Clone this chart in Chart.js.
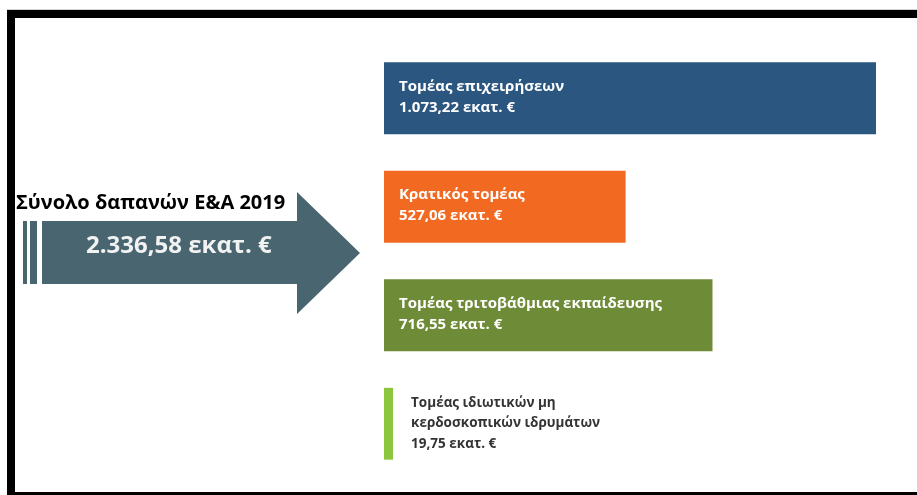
<!DOCTYPE html>
<html>
<head>
<meta charset="utf-8">
<script src="https://cdn.jsdelivr.net/npm/chart.js@4.4.1/dist/chart.umd.min.js"></script>
<style>
  html, body { margin: 0; padding: 0; background: #ffffff; }
  canvas { display: block; }
</style>
</head>
<body>
<canvas id="c" width="917" height="495"></canvas>
<script>
// ---- data ----
const categories = [
  'Τομέας επιχειρήσεων',
  'Κρατικός τομέας',
  'Τομέας τριτοβάθμιας εκπαίδευσης',
  ['Τομέας ιδιωτικών μη', 'κερδοσκοπικών ιδρυμάτων']
];
const values = [1073.22, 527.06, 716.55, 19.75];
const unitLabel = 'εκατ. €';
const totalTitle = 'Σύνολο δαπανών Ε&Α 2019';
const totalValue = 2336.58;
const barColors = ['#2b5680', '#f26a21', '#6e8b37', '#8cc63f'];

function fmtGreek(v) {
  const parts = v.toFixed(2).split('.');
  const intPart = parts[0].replace(/\B(?=(\d{3})+(?!\d))/g, '.');
  return intPart + ',' + parts[1] + ' ' + unitLabel;
}

const decorPlugin = {
  id: 'decor',
  beforeDraw(chart) {
    const ctx = chart.ctx;
    ctx.save();
    ctx.fillStyle = '#ffffff';
    ctx.fillRect(0, 0, chart.width, chart.height);
    // frame
    ctx.fillStyle = '#000000';
    ctx.fillRect(7, 10, 910, 8);
    ctx.fillRect(7, 10, 8, 485);
    ctx.fillRect(7, 492, 910, 3);
    ctx.fillStyle = '#d0d0d0';
    ctx.fillRect(7, 9, 910, 1);

    // total arrow
    const arrowColor = '#486570';
    ctx.fillStyle = arrowColor;
    ctx.fillRect(23, 221, 4, 63);
    ctx.fillRect(30, 221, 7, 63);
    ctx.beginPath();
    ctx.moveTo(42, 221);
    ctx.lineTo(297, 221);
    ctx.lineTo(297, 192);
    ctx.lineTo(360, 253);
    ctx.lineTo(297, 314);
    ctx.lineTo(297, 284);
    ctx.lineTo(42, 284);
    ctx.closePath();
    ctx.fill();

    ctx.textBaseline = 'alphabetic';
    ctx.textAlign = 'left';
    ctx.fillStyle = '#000000';
    ctx.font = 'bold 20px "Open Sans"';
    ctx.fillText(totalTitle, 16, 209);
    ctx.fillStyle = '#f2f2f2';
    ctx.font = 'bold 24px "Open Sans"';
    ctx.fillText(fmtGreek(totalValue), 86, 253);
    ctx.restore();
  },
  afterDatasetsDraw(chart) {
    const ctx = chart.ctx;
    const meta = chart.getDatasetMeta(0);
    ctx.save();
    ctx.textAlign = 'left';
    ctx.textBaseline = 'middle';
    meta.data.forEach((bar, i) => {
      const top = bar.y - bar.height / 2;
      const lab = categories[i];
      const lines = (Array.isArray(lab) ? lab.slice() : [lab]);
      lines.push(fmtGreek(values[i]));
      const barW = bar.x - bar.base;
      if (barW > 100) {
        ctx.fillStyle = '#ffffff';
        ctx.font = 'bold 15px "Open Sans"';
        lines.forEach((t, k) => ctx.fillText(t, bar.base + 15, top + 24 + k * 21));
      } else {
        ctx.fillStyle = '#333333';
        ctx.font = 'bold 13.5px "Open Sans"';
        lines.forEach((t, k) => ctx.fillText(t, bar.x + 18, top + 15 + k * 20.5));
      }
    });
    ctx.restore();
  }
};

new Chart(document.getElementById('c'), {
  type: 'bar',
  data: {
    labels: categories,
    datasets: [{
      data: values,
      backgroundColor: barColors,
      borderWidth: 0,
      categoryPercentage: 1.0,
      barPercentage: 0.662
    }]
  },
  options: {
    indexAxis: 'y',
    responsive: false,
    animation: false,
    devicePixelRatio: 1,
    layout: { padding: { left: 384, right: 41, top: 44, bottom: 17 } },
    plugins: {
      legend: { display: false },
      tooltip: { enabled: false },
      title: { display: false }
    },
    scales: {
      x: { display: false, min: 0, max: Math.max(...values) },
      y: { display: false }
    }
  },
  plugins: [decorPlugin]
});
</script>
</body>
</html>
